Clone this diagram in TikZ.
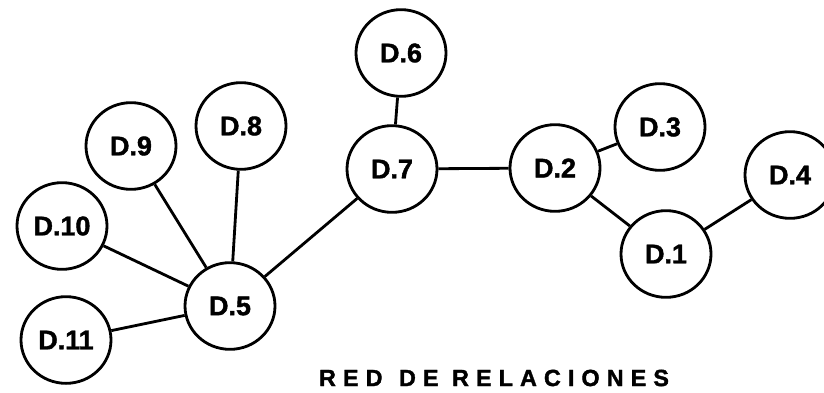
\documentclass[tikz,border=0pt]{standalone}
\usepackage{fontspec}
\setmainfont{Liberation Sans}[BoldFeatures={FakeBold=1.5}]
\usetikzlibrary{shapes.geometric}

\begin{document}
\begin{tikzpicture}[
    x=0.03cm, y=-0.03cm,
    dnode/.style={draw, ellipse, line width=2.4pt, fill=white,
      minimum width=2.7cm, minimum height=2.6cm, inner sep=0pt,
      font=\fontsize{23}{26}\selectfont\bfseries},
    link/.style={line width=2.4pt},
    caption/.style={font=\fontsize{20}{24}\selectfont\bfseries
      \addfontfeature{LetterSpace=30}}
  ]
  \useasboundingbox (0,0) rectangle (824,392);

  % right branch
  \node[dnode] (d6) at (401,53) {D.6};
  \node[dnode] (d7) at (392,169) {D.7};
  \node[dnode] (d2) at (555,168) {D.2};
  \node[dnode] (d3) at (660,127) {D.3};
  \node[dnode] (d1) at (666,254) {D.1};
  \node[dnode] (d4) at (790,175) {D.4};

  % left fan
  \node[dnode] (d5) at (230,306) {D.5};
  \node[dnode] (d8) at (241,126) {D.8};
  \node[dnode] (d9) at (131,146) {D.9};
  \node[dnode] (d10) at (62,226) {D.10};
  \node[dnode] (d11) at (66,340) {D.11};

  \node[caption] (title) at (494,378) {RED\hspace{14pt}DE RELACIONES};

  \draw[link] (d6) -- (d7);
  \draw[link] (d7) -- (d2);
  \draw[link] (d2) -- (d3);
  \draw[link] (d2) -- (d1);
  \draw[link] (d1) -- (d4);
  \draw[link] (d7) -- (d5);
  \draw[link] (d8) -- (d5);
  \draw[link] (d9) -- (d5);
  \draw[link] (d10) -- (d5);
  \draw[link] (d11) -- (d5);
\end{tikzpicture}
\end{document}
